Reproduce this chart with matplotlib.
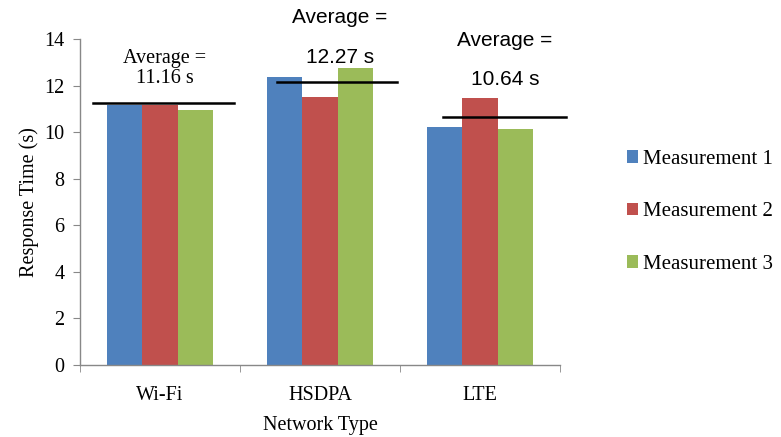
import numpy as np
import matplotlib
matplotlib.use("Agg")
import matplotlib.pyplot as plt

networks = ["Wi-Fi", "HSDPA", "LTE"]
series = ["Measurement 1", "Measurement 2", "Measurement 3"]
meas1 = [11.18, 12.37, 10.24]
meas2 = [11.18, 11.52, 11.48]
meas3 = [10.93, 12.76, 10.14]
avg_line = [11.27, 12.15, 10.65]
avg_text = ["11.16 s", "12.27 s", "10.64 s"]

colors = ["#4F81BD", "#C0504D", "#9BBB59"]
serif = ["Liberation Serif", "DejaVu Serif"]
sans = ["Liberation Sans", "DejaVu Sans"]

fig = plt.figure(figsize=(7.81, 4.37), dpi=100)
ax = fig.add_axes([80 / 781, 72 / 437, 480 / 781, 326 / 437])

x = np.arange(len(networks))
w = 0.222
for i, (vals, name) in enumerate(zip([meas1, meas2, meas3], series)):
    ax.bar(x + (i - 1) * w, vals, w, color=colors[i], label=name, zorder=2)

# average lines (hand-drawn in the original, slightly uneven spans)
spans = [(-0.42, 0.46), (0.73, 1.48), (1.77, 2.54)]
for (a, b), v in zip(spans, avg_line):
    ax.plot([a, b], [v, v], color="black", lw=1.8, zorder=3, clip_on=False)

# annotations
ax.text(0.03, 12.97, "Average =", ha="center", va="baseline", family=serif, fontsize=14.5)
ax.text(0.03, 12.1, avg_text[0], ha="center", va="baseline", family=serif, fontsize=14.5)
ax.text(1.125, 14.94, "Average =", ha="center", va="center", family=sans,
        fontsize=15, clip_on=False)
ax.text(1.125, 13.2, avg_text[1], ha="center", va="center", family=sans, fontsize=15)
ax.text(2.156, 13.95, "Average =", ha="center", va="center", family=sans, fontsize=15)
ax.text(2.156, 12.24, avg_text[2], ha="center", va="center", family=sans, fontsize=15)

ax.set_xlim(-0.5, 2.5)
ax.set_ylim(0, 14)
ax.set_yticks(range(0, 15, 2))
ax.set_xticks(x)
ax.set_xticklabels(networks, family=serif, fontsize=14.5)
ax.set_xticks([-0.5, 0.5, 1.5, 2.5], minor=True)
ax.tick_params(axis="x", which="major", length=0, pad=15)
ax.tick_params(axis="x", which="minor", length=5, color="#888888", direction="out")
ax.tick_params(axis="y", length=5, color="#888888", direction="out", labelsize=14.5, pad=6)
for lab in ax.get_yticklabels():
    lab.set_family(serif)

for s in ["top", "right"]:
    ax.spines[s].set_visible(False)
for s in ["left", "bottom"]:
    ax.spines[s].set_color("#888888")
    ax.spines[s].set_linewidth(1)

ax.set_ylabel("Response Time (s)", family=serif, fontsize=14.5, labelpad=4)
ax.set_xlabel("Network Type", family=serif, fontsize=14.5, labelpad=8)

leg = ax.legend(loc="center left", bbox_to_anchor=(1.1, 0.47), frameon=False,
                prop={"family": serif, "size": 15}, handlelength=0.55,
                handleheight=0.55, handletextpad=0.25, labelspacing=1.6)

fig.savefig("out.png", dpi=100)
